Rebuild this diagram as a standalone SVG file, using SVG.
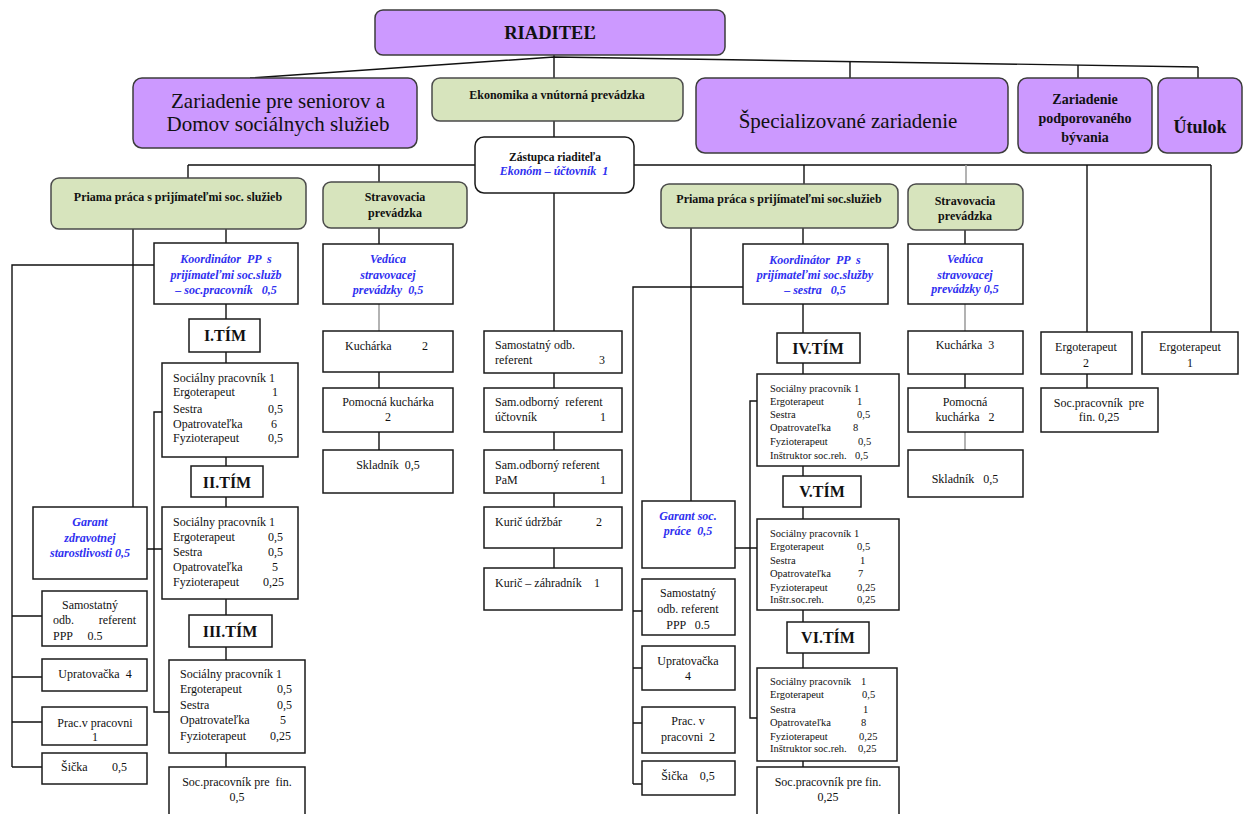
<svg xmlns="http://www.w3.org/2000/svg" width="1244" height="814" viewBox="0 0 1244 814">
<style>
text{font-family:"Liberation Serif","Times New Roman",serif;fill:#111;white-space:pre;}
.c{text-anchor:middle;}
.e{text-anchor:end;}
.b{font-weight:bold;}
.big{font-size:21px;}
.s{font-size:12px;}
.xs{font-size:10.5px;}
.m{font-size:12px;font-weight:bold;}
.bl{font-size:12px;font-weight:bold;font-style:italic;fill:#3030f0;}
.tim{font-size:16px;font-weight:bold;}
.p{fill:#cc99ff;stroke:#3c3c3c;stroke-width:1.5;}
.g{fill:#d7e4bd;stroke:#4a4a4a;stroke-width:1.5;}
.w{fill:#fff;stroke:#1a1a1a;stroke-width:1.5;}
.ln{fill:none;stroke:#111;stroke-width:1.4;}
.gr{fill:none;stroke:#a0a0a0;stroke-width:1.6;}
</style>
<rect width="1244" height="814" fill="#fff"/>
<g id="connectors">
<polyline class="ln" points="250,78 554,57 1198,67" stroke="#444"/>
<path class="ln" d="M554,55V78M850,61.6V78M1078,65V78M1198,67V78M554,121V137"/>
<path class="ln" d="M188,165H1211M188,165V178M379,165V182M804,165V184M1087,165V332M1211,165V332M554,193V331"/>
<path class="gr" d="M966,165V184"/>
<path class="ln" d="M133,229V507M226,229V243M154,265H12V767M12,616H42M12,677H42M12,722H42M12,767H42"/>
<path class="ln" d="M226,304V319M226,352V363M226,457V466M226,497V507M226,599V615M226,647V660M226,753V767"/>
<path class="ln" d="M162,412H154V712H169M147,549H162"/>
<path class="ln" d="M379,228V244M379,372V388M379,432V450"/>
<path class="gr" d="M379,304V331"/>
<path class="ln" d="M554,373V388M554,432V450M554,493V507M554,548V568"/>
<path class="ln" d="M691,228V501M803,228V244M743,287H633V784M633,611H642M633,668H642M633,723H642M633,784H642"/>
<path class="ln" d="M803,304V333M803,363V374M803,466V476M803,507V519M803,610V622M803,653V668M803,761V767"/>
<path class="ln" d="M757,401H750V718H757M735,548H757"/>
<path class="ln" d="M965,230V244M965,374V388M1087,374V388"/>
<path class="gr" d="M965,304V331M965,432V450"/>
</g>
<g id="riaditel"><rect class="p" x="375" y="10" width="350" height="45" rx="8"/><text class="c b" x="550" y="39" font-size="18.5">RIADITEĽ</text></g>
<g id="zariadenie-seniorov"><rect class="p" x="133" y="78" width="284" height="70" rx="9"/><text class="c big" x="278" y="108">Zariadenie pre seniorov a</text><text class="c big" x="278" y="131">Domov sociálnych služieb</text></g>
<g id="ekonomika"><rect class="g" x="432" y="78" width="251" height="43" rx="8"/><text class="c b" x="557" y="99" font-size="12">Ekonomika a vnútorná prevádzka</text></g>
<g id="specializovane"><rect class="p" x="696" y="78" width="312" height="75" rx="9"/><text class="c big" x="848" y="128">Špecializované zariadenie</text></g>
<g id="podporovane"><rect class="p" x="1018" y="78" width="134" height="75" rx="9"/><text class="c b" x="1085" y="104" font-size="14">Zariadenie</text><text class="c b" x="1085" y="123" font-size="14">podporovaného</text><text class="c b" x="1085" y="142" font-size="14">bývania</text></g>
<g id="utulok"><rect class="p" x="1158" y="78" width="84" height="75" rx="9"/><text class="c b" x="1200" y="133" font-size="18">Útulok</text></g>
<g id="zastupca"><rect class="w" x="475" y="137" width="159" height="56" rx="9"/><text class="c b" x="555" y="161" font-size="11.5">Zástupca riaditeľa</text><text class="c bl" x="554" y="175" font-size="11.5">Ekonóm – účtovník  1</text></g>

<g id="priama-left"><rect class="g" x="51" y="178" width="255" height="51" rx="8"/><text class="c m" x="178" y="201">Priama práca s prijímateľmi soc. služieb</text></g>
<g id="koord-left"><rect class="w" x="154" y="243" width="144" height="61"/><text class="c bl" x="226" y="263">Koordinátor  PP  s</text><text class="c bl" x="226" y="279">prijímateľmi soc.služb</text><text class="c bl" x="226" y="294">– soc.pracovník   0,5</text></g>
<g id="tim1"><rect class="w" x="189" y="319" width="71" height="33"/><text class="c tim" x="225" y="341">I.TÍM</text></g>
<g id="tim1-box"><rect class="w" x="162" y="363" width="136" height="94"/>
<text class="s" x="173" y="382">Sociálny pracovník 1</text>
<text class="s" x="173" y="396">Ergoterapeut</text><text class="s" x="272" y="396">1</text>
<text class="s" x="173" y="413">Sestra</text><text class="s" x="268" y="413">0,5</text>
<text class="s" x="173" y="428">Opatrovateľka</text><text class="s" x="271" y="428">6</text>
<text class="s" x="173" y="442">Fyzioterapeut</text><text class="s" x="268" y="442">0,5</text></g>
<g id="tim2"><rect class="w" x="191" y="466" width="72" height="31"/><text class="c tim" x="227" y="488">II.TÍM</text></g>
<g id="tim2-box"><rect class="w" x="162" y="507" width="136" height="92"/>
<text class="s" x="173" y="526">Sociálny pracovník 1</text>
<text class="s" x="173" y="541">Ergoterapeut</text><text class="s" x="268" y="541">0,5</text>
<text class="s" x="173" y="556">Sestra</text><text class="s" x="268" y="556">0,5</text>
<text class="s" x="173" y="571">Opatrovateľka</text><text class="s" x="272" y="571">5</text>
<text class="s" x="173" y="586">Fyzioterapeut</text><text class="s" x="263" y="586">0,25</text></g>
<g id="tim3"><rect class="w" x="189" y="615" width="83" height="32"/><text class="c tim" x="230" y="637">III.TÍM</text></g>
<g id="tim3-box"><rect class="w" x="169" y="660" width="136" height="93"/>
<text class="s" x="180" y="678">Sociálny pracovník 1</text>
<text class="s" x="180" y="693">Ergoterapeut</text><text class="s" x="277" y="693">0,5</text>
<text class="s" x="180" y="709">Sestra</text><text class="s" x="277" y="709">0,5</text>
<text class="s" x="180" y="724">Opatrovateľka</text><text class="s" x="280" y="724">5</text>
<text class="s" x="180" y="740">Fyzioterapeut</text><text class="s" x="270" y="740">0,25</text></g>
<g id="socfin-left"><rect class="w" x="169" y="767" width="136" height="60"/><text class="c s" x="237" y="786">Soc.pracovník pre  fin.</text><text class="c s" x="237" y="801">0,5</text></g>
<g id="garant-left"><rect class="w" x="33" y="507" width="114" height="72"/><text class="c bl" x="90" y="526">Garant</text><text class="c bl" x="90" y="542">zdravotnej</text><text class="c bl" x="90" y="557">starostlivosti 0,5</text></g>
<g id="samost-left"><rect class="w" x="42" y="591" width="105" height="55"/><text class="c s" x="90" y="609">Samostatný</text><text class="s" x="53" y="624">odb.</text><text class="s e" x="136" y="624">referent</text><text class="s" x="53" y="640">PPP     0.5</text></g>
<g id="uprat-left"><rect class="w" x="42" y="659" width="105" height="32"/><text class="c s" x="95" y="678">Upratovačka  4</text></g>
<g id="prac-left"><rect class="w" x="42" y="707" width="105" height="38"/><text class="c s" x="95" y="727">Prac.v pracovni</text><text class="c s" x="95" y="741">1</text></g>
<g id="sicka-left"><rect class="w" x="42" y="753" width="105" height="31"/><text class="s" x="61" y="771">Šička</text><text class="s" x="112" y="771">0,5</text></g>

<g id="strav-left"><rect class="g" x="323" y="182" width="144" height="46" rx="8"/><text class="c m" x="395" y="201">Stravovacia</text><text class="c m" x="395" y="217">prevádzka</text></g>
<g id="veduca-left"><rect class="w" x="323" y="244" width="130" height="60"/><text class="c bl" x="388" y="263">Vedúca</text><text class="c bl" x="388" y="279">stravovacej</text><text class="c bl" x="388" y="294">prevádzky  0,5</text></g>
<g id="kuch-left"><rect class="w" x="323" y="331" width="130" height="41"/><text class="s" x="345" y="350">Kuchárka</text><text class="s" x="422" y="350">2</text></g>
<g id="pomkuch-left"><rect class="w" x="323" y="388" width="130" height="44"/><text class="c s" x="388" y="406">Pomocná kuchárka</text><text class="c s" x="388" y="421">2</text></g>
<g id="sklad-left"><rect class="w" x="323" y="450" width="130" height="43"/><text class="c s" x="388" y="469">Skladník  0,5</text></g>

<g id="samost-odb"><rect class="w" x="484" y="331" width="138" height="42"/><text class="s" x="495" y="349">Samostatný odb.</text><text class="s" x="495" y="364">referent</text><text class="s" x="599" y="364">3</text></g>
<g id="sam-uct"><rect class="w" x="484" y="388" width="138" height="44"/><text class="s" x="495" y="406">Sam.odborný  referent</text><text class="s" x="495" y="421">účtovník</text><text class="s" x="600" y="421">1</text></g>
<g id="sam-pam"><rect class="w" x="484" y="450" width="138" height="43"/><text class="s" x="495" y="469">Sam.odborný referent</text><text class="s" x="495" y="484">PaM</text><text class="s" x="600" y="484">1</text></g>
<g id="kuric-udr"><rect class="w" x="484" y="507" width="138" height="41"/><text class="s" x="495" y="526">Kurič údržbár</text><text class="s" x="596" y="526">2</text></g>
<g id="kuric-zahr"><rect class="w" x="484" y="568" width="138" height="42"/><text class="s" x="495" y="587">Kurič – záhradník</text><text class="s" x="594" y="587">1</text></g>

<g id="priama-right"><rect class="g" x="661" y="184" width="237" height="44" rx="8"/><text class="c m" x="779" y="203">Priama práca s prijímateľmi soc.služieb</text></g>
<g id="koord-right"><rect class="w" x="743" y="244" width="145" height="60"/><text class="c bl" x="815" y="264">Koordinátor  PP  s</text><text class="c bl" x="815" y="279">prijímateľmi soc.služby</text><text class="c bl" x="815" y="294">– sestra   0,5</text></g>
<g id="tim4"><rect class="w" x="777" y="333" width="83" height="30"/><text class="c tim" x="818" y="354">IV.TÍM</text></g>
<g id="tim4-box"><rect class="w" x="757" y="374" width="142" height="92"/>
<text class="xs" x="770" y="392">Sociálny pracovník 1</text>
<text class="xs" x="770" y="405">Ergoterapeut</text><text class="xs" x="857" y="405">1</text>
<text class="xs" x="770" y="418">Sestra</text><text class="xs" x="857" y="418">0,5</text>
<text class="xs" x="770" y="431">Opatrovateľka</text><text class="xs" x="853" y="431">8</text>
<text class="xs" x="770" y="445">Fyzioterapeut</text><text class="xs" x="858" y="445">0,5</text>
<text class="xs" x="770" y="459">Inštruktor soc.reh.</text><text class="xs" x="855" y="459">0,5</text></g>
<g id="tim5"><rect class="w" x="783" y="476" width="78" height="31"/><text class="c tim" x="822" y="497">V.TÍM</text></g>
<g id="tim5-box"><rect class="w" x="757" y="519" width="142" height="91"/>
<text class="xs" x="770" y="537">Sociálny pracovník 1</text>
<text class="xs" x="770" y="550">Ergoterapeut</text><text class="xs" x="857" y="550">0,5</text>
<text class="xs" x="770" y="564">Sestra</text><text class="xs" x="860" y="564">1</text>
<text class="xs" x="770" y="577">Opatrovateľka</text><text class="xs" x="858" y="577">7</text>
<text class="xs" x="770" y="591">Fyzioterapeut</text><text class="xs" x="857" y="591">0,25</text>
<text class="xs" x="770" y="603">Inštr.soc.reh.</text><text class="xs" x="857" y="603">0,25</text></g>
<g id="tim6"><rect class="w" x="787" y="622" width="82" height="31"/><text class="c tim" x="828" y="643">VI.TÍM</text></g>
<g id="tim6-box"><rect class="w" x="757" y="668" width="140" height="93"/>
<text class="xs" x="770" y="685">Sociálny pracovník</text><text class="xs" x="861" y="685">1</text>
<text class="xs" x="770" y="698">Ergoterapeut</text><text class="xs" x="862" y="698">0,5</text>
<text class="xs" x="770" y="713">Sestra</text><text class="xs" x="863" y="713">1</text>
<text class="xs" x="770" y="726">Opatrovateľka</text><text class="xs" x="861" y="726">8</text>
<text class="xs" x="770" y="740">Fyzioterapeut</text><text class="xs" x="859" y="740">0,25</text>
<text class="xs" x="770" y="752">Inštruktor soc.reh.</text><text class="xs" x="858" y="752">0,25</text></g>
<g id="socfin-right"><rect class="w" x="757" y="767" width="142" height="60"/><text class="c s" x="828" y="786">Soc.pracovník pre fin.</text><text class="c s" x="828" y="801">0,25</text></g>
<g id="garant-right"><rect class="w" x="642" y="501" width="93" height="67"/><text class="c bl" x="688" y="520">Garant soc.</text><text class="c bl" x="688" y="535">práce  0,5</text></g>
<g id="samost-right"><rect class="w" x="642" y="579" width="93" height="56"/><text class="c s" x="688" y="597">Samostatný</text><text class="c s" x="688" y="613">odb. referent</text><text class="c s" x="688" y="629">PPP   0.5</text></g>
<g id="uprat-right"><rect class="w" x="642" y="646" width="93" height="44"/><text class="c s" x="688" y="665">Upratovačka</text><text class="c s" x="688" y="680">4</text></g>
<g id="prac-right"><rect class="w" x="642" y="707" width="93" height="46"/><text class="c s" x="688" y="725">Prac. v</text><text class="c s" x="688" y="741">pracovni  2</text></g>
<g id="sicka-right"><rect class="w" x="642" y="761" width="93" height="34"/><text class="c s" x="688" y="780">Šička    0,5</text></g>

<g id="strav-right"><rect class="g" x="908" y="184" width="115" height="46" rx="8"/><text class="c m" x="965" y="205">Stravovacia</text><text class="c m" x="965" y="220">prevádzka</text></g>
<g id="veduca-right"><rect class="w" x="908" y="244" width="115" height="60"/><text class="c bl" x="965" y="263">Vedúca</text><text class="c bl" x="965" y="279">stravovacej</text><text class="c bl" x="965" y="293">prevádzky 0,5</text></g>
<g id="kuch-right"><rect class="w" x="908" y="331" width="115" height="43"/><text class="c s" x="965" y="349">Kuchárka  3</text></g>
<g id="pomkuch-right"><rect class="w" x="908" y="388" width="115" height="44"/><text class="c s" x="965" y="406">Pomocná</text><text class="c s" x="965" y="421">kuchárka   2</text></g>
<g id="sklad-right"><rect class="w" x="908" y="450" width="115" height="47"/><text class="c s" x="965" y="483">Skladník   0,5</text></g>
<g id="ergo2"><rect class="w" x="1041" y="332" width="91" height="42"/><text class="c s" x="1086" y="351">Ergoterapeut</text><text class="c s" x="1086" y="367">2</text></g>
<g id="socfin-pb"><rect class="w" x="1041" y="388" width="117" height="44"/><text class="c s" x="1099" y="407">Soc.pracovník  pre</text><text class="c s" x="1099" y="421">fin. 0,25</text></g>
<g id="ergo1"><rect class="w" x="1142" y="332" width="96" height="42"/><text class="c s" x="1190" y="351">Ergoterapeut</text><text class="c s" x="1190" y="367">1</text></g>
</svg>
